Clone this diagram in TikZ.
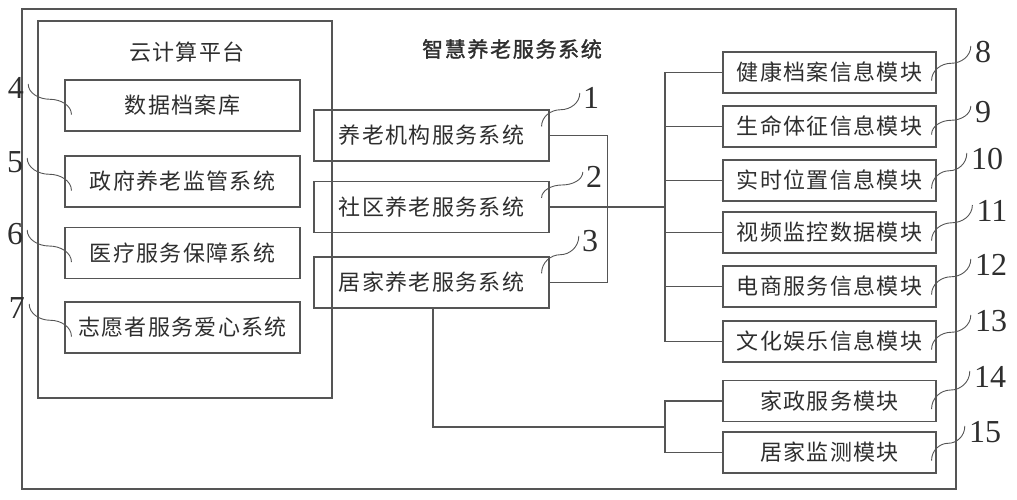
\documentclass[tikz,border=0pt]{standalone}
\usepackage{fontspec}
\newfontfamily\cjk[LetterSpace=6]{Noto Sans CJK SC}
\newfontfamily\cjkbf[LetterSpace=8,FakeBold=1.5]{Noto Sans CJK SC}
\newfontfamily\numfont{Liberation Serif}
\usetikzlibrary{calc}
\definecolor{linegray}{HTML}{555555}
\definecolor{textgray}{HTML}{2E2E2E}
% wavy leader from one point to another
\def\wavy(#1)(#2){%
	\coordinate (ws) at (#1);
	\coordinate (we) at (#2);
	\coordinate (wm) at ($(ws)!0.5!(we)$);
	\draw[leader] (ws) .. controls ($(ws)!0.6!(ws|-wm)$) and ($(wm)!0.5!(ws|-wm)$) .. (wm)
		.. controls ($(wm)!0.5!(we|-wm)$) and ($(we)!0.6!(we|-wm)$) .. (we);}

\begin{document}
\begin{tikzpicture}[x=1pt,y=-1pt,
		frame/.style={draw=linegray,line width=1.1pt},
		box/.style={draw=linegray,line width=1.1pt,inner sep=0pt,minimum height=51pt,
			text=textgray,font=\cjk\fontsize{22pt}{24pt}\selectfont},
		sysbox/.style={box,minimum width=235pt},
		modbox/.style={box,minimum width=213pt,minimum height=41pt},
		heading/.style={inner sep=0pt,text=textgray,font=\cjk\fontsize{22pt}{24pt}\selectfont},
		numlabel/.style={inner sep=0pt,text=textgray,font=\numfont\fontsize{32pt}{32pt}\selectfont},
		wire/.style={draw=linegray,line width=1.1pt},
		leader/.style={draw=linegray,line width=0.9pt}]
	%%%%% FRAME %%%%%
	\useasboundingbox (0,0) rectangle (1017,500);
	\draw[frame] (22,9) rectangle (956,489);
	\draw[frame] (38,21) rectangle (332,398);
	
	\node[heading,font=\cjkbf\fontsize{21pt}{24pt}\selectfont] (title) at (512,49) {智慧养老服务系统};
	\node[heading] (cloud) at (187,52) {云计算平台};
	
	%%%%% CLOUD PLATFORM %%%%%
	\node[sysbox] (b4) at (182.5,105.5) {数据档案库};
	\node[sysbox] (b5) at (182.5,181.5) {政府养老监管系统};
	\node[sysbox] (b6) at (182.5,253) {医疗服务保障系统};
	\node[sysbox] (b7) at (182.5,327.5) {志愿者服务爱心系统};
	
	%%%%% SERVICE SYSTEMS %%%%%
	\node[sysbox] (b1) at (431.5,135.5) {养老机构服务系统};
	\node[sysbox] (b2) at (431.5,207) {社区养老服务系统};
	\node[sysbox] (b3) at (431.5,282.5) {居家养老服务系统};
	
	%%%%% MODULES %%%%%
	\foreach \n/\y/\t in {8/72.5/健康档案信息模块, 9/126.5/生命体征信息模块,
		10/180.5/实时位置信息模块, 11/232.5/视频监控数据模块,
		12/286.5/电商服务信息模块, 13/341.5/文化娱乐信息模块,
		14/401/家政服务模块, 15/452.5/居家监测模块}
		\node[modbox] (b\n) at (829.5,\y) {\t};
	
	%%%%% CONNECTORS %%%%%
	\draw[wire] (b1.east) -- ++(58,0) |- (b3.east);
	\coordinate (hubA) at (665,207);
	\draw[wire] (b2.east) -- (hubA);
	\foreach \n in {8,...,13}
		\draw[wire] (hubA) |- (b\n.west);
	\coordinate (hubB) at (665,427);
	\draw[wire] ([xshift=1.5pt]b3.south) |- (hubB);
	\foreach \n in {14,15}
		\draw[wire] (hubB) |- (b\n.west);
	
	%%%%% NUMBERS %%%%%
	\foreach \n/\x/\y in {4/16/88, 5/15/162, 6/15/234, 7/17/308}{
		\node[numlabel] (l\n) at (\x,\y) {\n};
		\wavy([xshift=4pt,yshift=4pt]l\n.east)([xshift=7pt,yshift=17pt]b\n.south west)
	}
	\foreach \n/\x/\y in {1/591/98, 2/594/177, 3/590/241}{
		\node[numlabel] (l\n) at (\x,\y) {\n};
		\wavy([xshift=-8pt,yshift=-17pt]b\n.north east)([xshift=-3pt,yshift=5pt]l\n.west)
	}
	\foreach \n/\x/\y in {8/983/52, 9/983/112, 10/987/159, 11/992/211,
		12/991/265, 13/991/321, 14/990/377, 15/985/432}{
		\node[numlabel] (l\n) at (\x,\y) {\n};
		\wavy([xshift=-5pt,yshift=13pt]b\n.south east)([xshift=-4pt,yshift=6pt]l\n.west)
	}
\end{tikzpicture}
\end{document}
